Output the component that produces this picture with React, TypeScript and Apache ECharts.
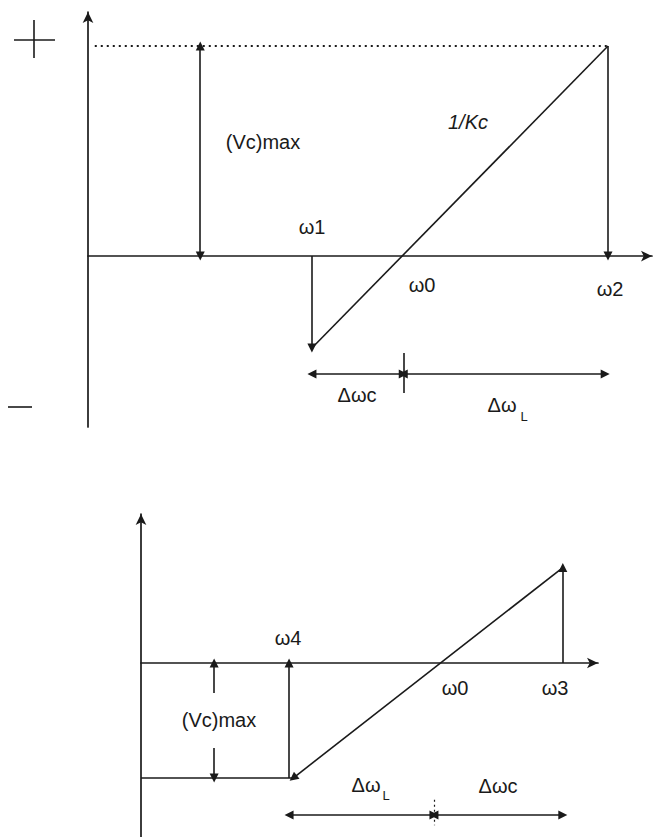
import React, { useEffect, useRef } from 'react';
import * as echarts from 'echarts';

// ---------- Top diagram (ω in arbitrary units, V in units of (Vc)max) ----------
const topOmega = [39.7, 55.9, 92.2]; // ω1, ω0 (junction), ω2
const topLevels = [1.0, -0.438]; // (Vc)max, 1/Kc line value at ω1
const topVcArrowX = [19.9]; // position of the (Vc)max dimension arrow
const topDottedStart = [1.2];
const topDeltaRow = [-0.562, -0.462, -0.652]; // arrow row, tick top, tick bottom
const topDeltaEnd = [91.7];

// ---------- Bottom diagram ----------
const botOmega = [32.4, 64.1, 92.3]; // ω4, ω0 (junction), ω3
const botLineStart = [33.3, -1.0]; // lower end of 1/Kc line
const botLineTop = [0.83]; // value of line at ω3
const botVcGap = [-0.26, -0.74]; // gap for the (Vc)max label
const botVcArrowX = [16.0];
const botDeltaRow = [-1.322, -1.19, -1.41];

const INK = '#1a1a1a';
const FONT = '"Liberation Sans", Arial, sans-serif';

function seg(a: number[], b: number[]) {
  return { coords: [a, b] };
}

export default function App() {
  const ref = useRef<HTMLDivElement>(null);
  useEffect(() => {
    if (!ref.current) return;
    const chart = echarts.init(ref.current, undefined, { renderer: 'svg' });

    const [w1, w0t, w2] = topOmega;
    const [vmax, vmin] = topLevels;
    const [rowT, tickT1, tickT2] = topDeltaRow;
    const [w4, w0b, w3] = botOmega;
    const [rowB, tickB1, tickB2] = botDeltaRow;

    const axisCommon = {
      type: 'value' as const,
      splitLine: { show: false },
      axisTick: { show: false },
      axisLabel: { show: false },
    };
    const axLine = {
      show: true,
      symbol: ['none', 'arrow'],
      symbolSize: [8, 11],
      lineStyle: { color: INK, width: 1.7 },
    };

    const baseLines = (xi: number, extra: any) => ({
      type: 'lines',
      coordinateSystem: 'cartesian2d',
      xAxisIndex: xi,
      yAxisIndex: xi,
      polyline: false,
      silent: true,
      lineStyle: { color: INK, width: 1.6, opacity: 1 },
      ...extra,
    });

    const text = (t: string, x: number, y: number, extra: any = {}) => ({
      type: 'text',
      x,
      y,
      style: {
        text: t,
        fill: INK,
        font: `20px ${FONT}`,
        align: 'center',
        verticalAlign: 'middle',
        ...extra,
      },
    });
    const gline = (x1: number, y1: number, x2: number, y2: number) => ({
      type: 'line',
      shape: { x1, y1, x2, y2 },
      style: { stroke: INK, lineWidth: 1.6 },
    });

    chart.setOption({
      animation: false,
      backgroundColor: '#ffffff',
      grid: [
        { left: 88, top: 12, width: 564, height: 415 },
        { left: 141, top: 514, width: 457, height: 323 },
      ],
      xAxis: [
        { ...axisCommon, gridIndex: 0, min: 0, max: 100, axisLine: { ...axLine, onZero: true } },
        { ...axisCommon, gridIndex: 1, min: 0, max: 100, axisLine: { ...axLine, onZero: true } },
      ],
      yAxis: [
        { ...axisCommon, gridIndex: 0, min: -0.814, max: 1.162, axisLine: { ...axLine, onZero: false } },
        { ...axisCommon, gridIndex: 1, min: -1.513, max: 1.296, axisLine: { ...axLine, onZero: false } },
      ],
      series: [
        // ---- top: plain lines
        baseLines(0, {
          symbol: ['none', 'none'],
          data: [
            seg([w1, vmin], [w2, vmax]),
            seg([w0t, tickT1], [w0t, tickT2]),
          ],
        }),
        baseLines(0, {
          symbol: ['none', 'none'],
          lineStyle: { color: INK, width: 1.8, type: [2, 4], opacity: 1 },
          data: [seg([topDottedStart[0], vmax], [w2, vmax])],
        }),
        // ---- top: arrow at end
        baseLines(0, {
          symbol: ['none', 'triangle'],
          symbolSize: 9,
          data: [
            seg([w1, 0], [w1, vmin]),
            seg([w2, vmax], [w2, 0]),
          ],
        }),
        // ---- top: arrows at both ends
        baseLines(0, {
          symbol: ['triangle', 'triangle'],
          symbolSize: 9,
          data: [
            seg([topVcArrowX[0], vmax], [topVcArrowX[0], 0]),
            seg([w1, rowT], [w0t, rowT]),
            seg([w0t, rowT], [topDeltaEnd[0], rowT]),
          ],
        }),
        // ---- bottom: plain lines
        baseLines(1, {
          symbol: ['none', 'none'],
          data: [seg([0, -1], [botLineStart[0], -1])],
        }),
        baseLines(1, {
          symbol: ['none', 'none'],
          lineStyle: { color: INK, width: 1.2, type: [2, 3], opacity: 1 },
          data: [seg([w0b, tickB1], [w0b, tickB2])],
        }),
        // ---- bottom: arrow at end
        baseLines(1, {
          symbol: ['none', 'triangle'],
          symbolSize: 9,
          data: [
            seg([w4, -1], [w4, 0]),
            seg([w3, 0], [w3, botLineTop[0]]),
            seg([botVcArrowX[0], botVcGap[0]], [botVcArrowX[0], 0]),
            seg([botVcArrowX[0], botVcGap[1]], [botVcArrowX[0], -1]),
            seg([w3, botLineTop[0]], botLineStart),
          ],
        }),
        // ---- bottom: arrows at both ends
        baseLines(1, {
          symbol: ['triangle', 'triangle'],
          symbolSize: 9,
          data: [
            seg([w4, rowB], [w0b, rowB]),
            seg([w0b, rowB], [w3, rowB]),
          ],
        }),
      ],
      graphic: [
        // polarity signs
        gline(14, 40, 55, 40),
        gline(34, 20, 34, 58),
        gline(8, 407, 32, 407),
        // top labels
        text('(Vc)max', 263, 142),
        text('ω1', 312, 227),
        text('1/Kc', 468, 122, { font: `italic 20px ${FONT}` }),
        text('ω0', 422, 285),
        text('ω2', 610, 289),
        text('Δωc', 357, 395),
        text('Δω', 502, 405),
        text('L', 524, 416, { font: `13px ${FONT}` }),
        // bottom labels
        text('ω4', 288, 638),
        text('(Vc)max', 219, 720),
        text('ω0', 455, 688),
        text('ω3', 555, 688),
        text('Δω', 366, 785),
        text('L', 386, 795, { font: `13px ${FONT}` }),
        text('Δωc', 498, 786),
      ],
    });
    return () => chart.dispose();
  }, []);

  return (
    <div
      ref={ref}
      style={{ position: 'fixed', left: 0, top: 0, width: 660, height: 837, background: '#fff' }}
    />
  );
}
